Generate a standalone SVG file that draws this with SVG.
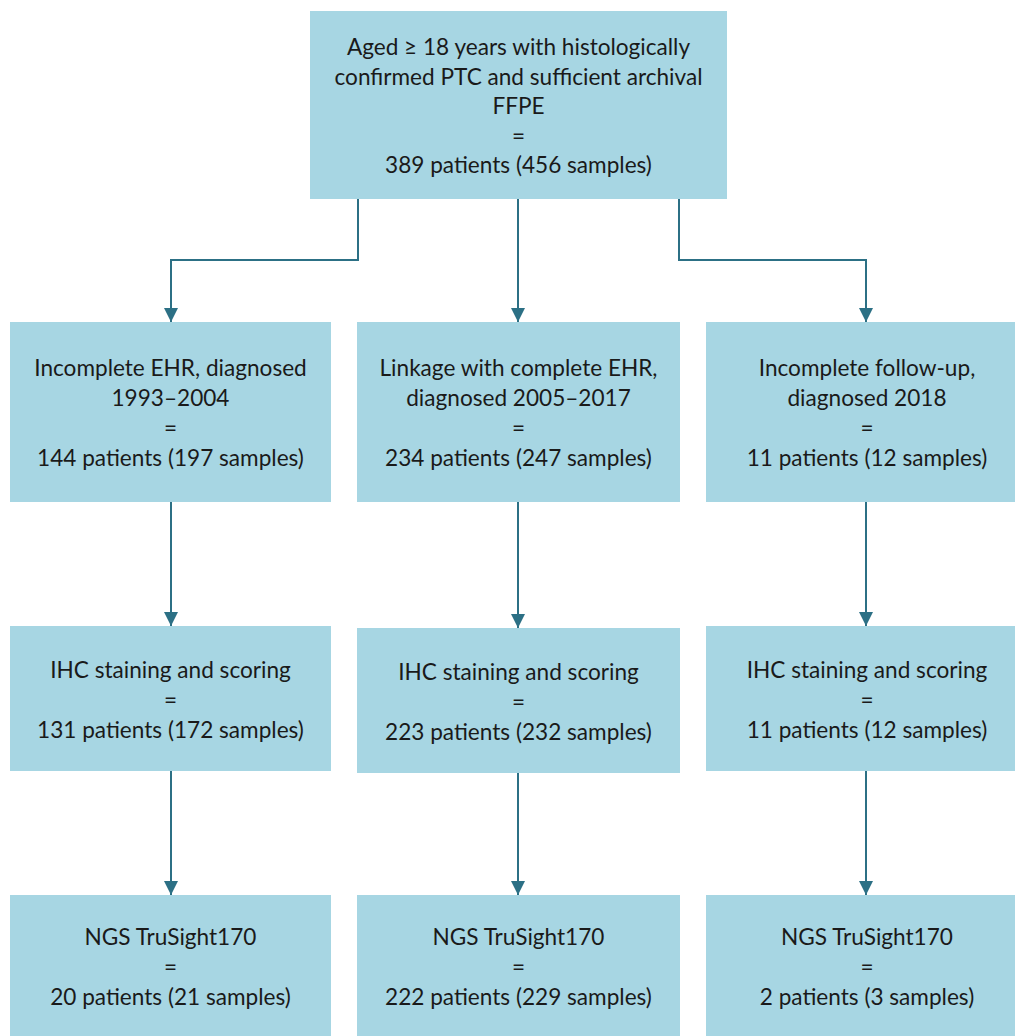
<svg xmlns="http://www.w3.org/2000/svg" width="1015" height="1036" viewBox="0 0 1015 1036">
<defs>
<style>
.box{fill:#a7d6e3;}
.t{font-family:Lato,"Open Sans","Liberation Sans",sans-serif;font-size:22.6px;fill:#1a1a1a;text-anchor:middle;}
.c{stroke:#2c7085;stroke-width:2;fill:none;}
</style>
<marker id="ah" markerWidth="14" markerHeight="14" viewBox="0 0 14 14" refX="14" refY="7" orient="auto" markerUnits="userSpaceOnUse">
<path d="M0,0 L14,7 L0,14 Z" fill="#2c7085"/>
</marker>
</defs>
<rect width="1015" height="1036" fill="#ffffff"/>
<g id="connectors">
<path class="c" d="M358,199 V260 H171 V322" marker-end="url(#ah)"/>
<path class="c" d="M518,199 V322" marker-end="url(#ah)"/>
<path class="c" d="M679,199 V260 H866 V322" marker-end="url(#ah)"/>
<path class="c" d="M171,502 V626" marker-end="url(#ah)"/>
<path class="c" d="M518,502 V628" marker-end="url(#ah)"/>
<path class="c" d="M866,502 V626" marker-end="url(#ah)"/>
<path class="c" d="M171,771 V895" marker-end="url(#ah)"/>
<path class="c" d="M518,773 V895" marker-end="url(#ah)"/>
<path class="c" d="M866,771 V895" marker-end="url(#ah)"/>
</g>
<g id="n0">
<rect class="box" x="310" y="11" width="417" height="188"/>
<text class="t" x="518.5" y="55">Aged ≥ 18 years with histologically</text>
<text class="t" x="518.5" y="84.5">confirmed PTC and sufficient archival</text>
<text class="t" x="518.5" y="114">FFPE</text>
<text class="t" x="518.5" y="143.5">=</text>
<text class="t" x="518.5" y="173">389 patients (456 samples)</text>
</g>
<g id="n1">
<rect class="box" x="10" y="322" width="321" height="180"/>
<text class="t" x="170.5" y="376">Incomplete EHR, diagnosed</text>
<text class="t" x="170.5" y="406">1993–2004</text>
<text class="t" x="170.5" y="436">=</text>
<text class="t" x="170.5" y="466">144 patients (197 samples)</text>
</g>
<g id="n2">
<rect class="box" x="357" y="322" width="323" height="180"/>
<text class="t" x="518.5" y="376">Linkage with complete EHR,</text>
<text class="t" x="518.5" y="406">diagnosed 2005–2017</text>
<text class="t" x="518.5" y="436">=</text>
<text class="t" x="518.5" y="466">234 patients (247 samples)</text>
</g>
<g id="n3">
<rect class="box" x="706" y="322" width="322" height="180"/>
<text class="t" x="867" y="376">Incomplete follow-up,</text>
<text class="t" x="867" y="406">diagnosed 2018</text>
<text class="t" x="867" y="436">=</text>
<text class="t" x="867" y="466">11 patients (12 samples)</text>
</g>
<g id="n4">
<rect class="box" x="10" y="626" width="321" height="145"/>
<text class="t" x="170.5" y="678">IHC staining and scoring</text>
<text class="t" x="170.5" y="708">=</text>
<text class="t" x="170.5" y="738">131 patients (172 samples)</text>
</g>
<g id="n5">
<rect class="box" x="357" y="628" width="323" height="145"/>
<text class="t" x="518.5" y="680">IHC staining and scoring</text>
<text class="t" x="518.5" y="710">=</text>
<text class="t" x="518.5" y="740">223 patients (232 samples)</text>
</g>
<g id="n6">
<rect class="box" x="706" y="626" width="322" height="145"/>
<text class="t" x="867" y="678">IHC staining and scoring</text>
<text class="t" x="867" y="708">=</text>
<text class="t" x="867" y="738">11 patients (12 samples)</text>
</g>
<g id="n7">
<rect class="box" x="10" y="895" width="321" height="160"/>
<text class="t" x="170.5" y="945">NGS TruSight170</text>
<text class="t" x="170.5" y="975">=</text>
<text class="t" x="170.5" y="1005">20 patients (21 samples)</text>
</g>
<g id="n8">
<rect class="box" x="357" y="895" width="323" height="160"/>
<text class="t" x="518.5" y="945">NGS TruSight170</text>
<text class="t" x="518.5" y="975">=</text>
<text class="t" x="518.5" y="1005">222 patients (229 samples)</text>
</g>
<g id="n9">
<rect class="box" x="706" y="895" width="322" height="160"/>
<text class="t" x="867" y="945">NGS TruSight170</text>
<text class="t" x="867" y="975">=</text>
<text class="t" x="867" y="1005">2 patients (3 samples)</text>
</g>
</svg>
